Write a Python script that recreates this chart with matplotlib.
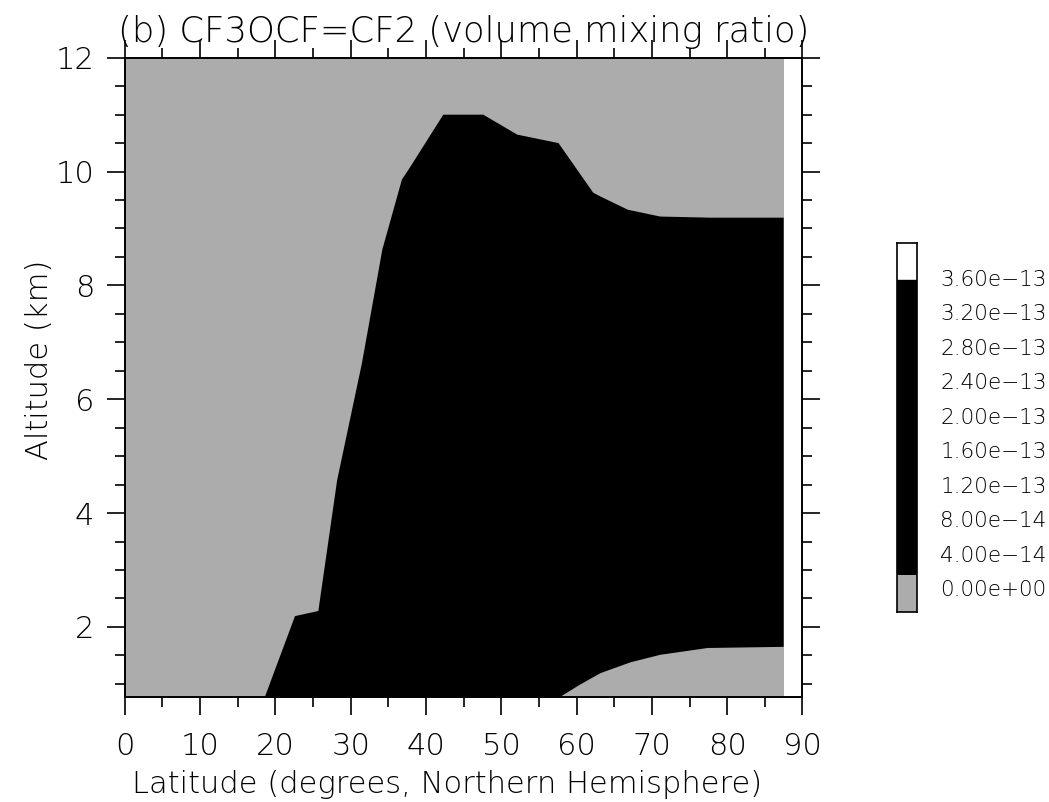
import numpy as np
import matplotlib

matplotlib.use("Agg")
import matplotlib.pyplot as plt
from matplotlib.ticker import MultipleLocator

GRAY = "#acacac"

plt.rcParams.update({
    "font.family": "DejaVu Sans",
    "font.weight": "light",
    "axes.titleweight": "light",
    "axes.labelweight": "light",
    "xtick.direction": "out",
    "ytick.direction": "out",
})

# model domain (latitude edge of data, altitude range)
domain_lat = [0.0, 87.5]
alt_bottom, alt_top = 0.77, 12.0

# 4e-14 contour, upper/left branch (lat, alt)
upper_lat = [18.6, 22.6, 25.7, 28.2, 31.5, 34.2, 36.8, 37.9, 42.3, 47.6,
             52.1, 57.6, 62.2, 63.2, 66.8, 71.1, 77.8, 87.5]
upper_alt = [0.77, 2.19, 2.28, 4.58, 6.64, 8.63, 9.86, 10.08, 11.0, 11.0,
             10.65, 10.5, 9.63, 9.56, 9.33, 9.21, 9.19, 9.19]

# 4e-14 contour, lower-right branch
lower_lat = [87.5, 77.4, 71.1, 67.2, 63.2, 60.5, 57.8]
lower_alt = [1.65, 1.63, 1.51, 1.38, 1.19, 0.99, 0.77]

# colour key
levels = [0.0, 4e-14, 8e-14, 1.2e-13, 1.6e-13, 2.0e-13, 2.4e-13,
          2.8e-13, 3.2e-13, 3.6e-13]
level_colors = [GRAY] + ["black"] * 8 + ["white"]

fig = plt.figure(figsize=(10.49, 8.02), dpi=100)
ax = fig.add_axes([0.119, 0.131, 0.646, 0.797])

ax.fill_between(domain_lat, alt_bottom, alt_top, color=GRAY, lw=0)
ax.fill(upper_lat + lower_lat, upper_alt + lower_alt, color="black", lw=0)

ax.set_xlim(0, 90)
ax.set_ylim(alt_bottom, alt_top)
ax.xaxis.set_major_locator(MultipleLocator(10))
ax.xaxis.set_minor_locator(MultipleLocator(5))
ax.yaxis.set_major_locator(MultipleLocator(2))
ax.yaxis.set_minor_locator(MultipleLocator(0.5))
ax.tick_params(which="both", top=True, right=True, width=1.2, labelsize=22)
ax.tick_params(which="major", length=13)
ax.tick_params(which="minor", length=7)
ax.tick_params(axis="x", which="major", pad=12)
ax.tick_params(axis="y", which="major", pad=9)
for s in ax.spines.values():
    s.set_linewidth(1.4)

ax.set_xlabel("Latitude (degrees, Northern Hemisphere)", fontsize=22, labelpad=6)
ax.xaxis.set_label_coords(0.476, -0.115)
ax.set_ylabel("Altitude (km)", fontsize=22)
ax.yaxis.set_label_coords(-0.105, 0.527)
ax.set_title("(b) CF3OCF=CF2 (volume mixing ratio)", fontsize=25.5, pad=11)

# colour key drawn as stacked boxes
cax = fig.add_axes([0.855, 0.237, 0.019, 0.460])
idx = np.arange(len(levels))
cax.bar(np.zeros(len(levels)), np.ones(len(levels)), bottom=idx, width=1,
        color=level_colors, edgecolor="none", align="edge")
cax.set_xlim(0, 1)
cax.set_ylim(0, len(levels))
cax.set_xticks([])
cax.yaxis.tick_right()
cax.set_yticks(np.linspace(0.65, 9.05, len(levels)))
cax.set_yticklabels([f"{v:.2e}".replace("-", "\u2212") for v in levels],
                    fontsize=15.5)
cax.tick_params(axis="y", length=0, pad=17)
cax.axhline(9, color="black", lw=1.0)
for s in cax.spines.values():
    s.set_linewidth(1.2)

fig.savefig("out.png", dpi=100)
